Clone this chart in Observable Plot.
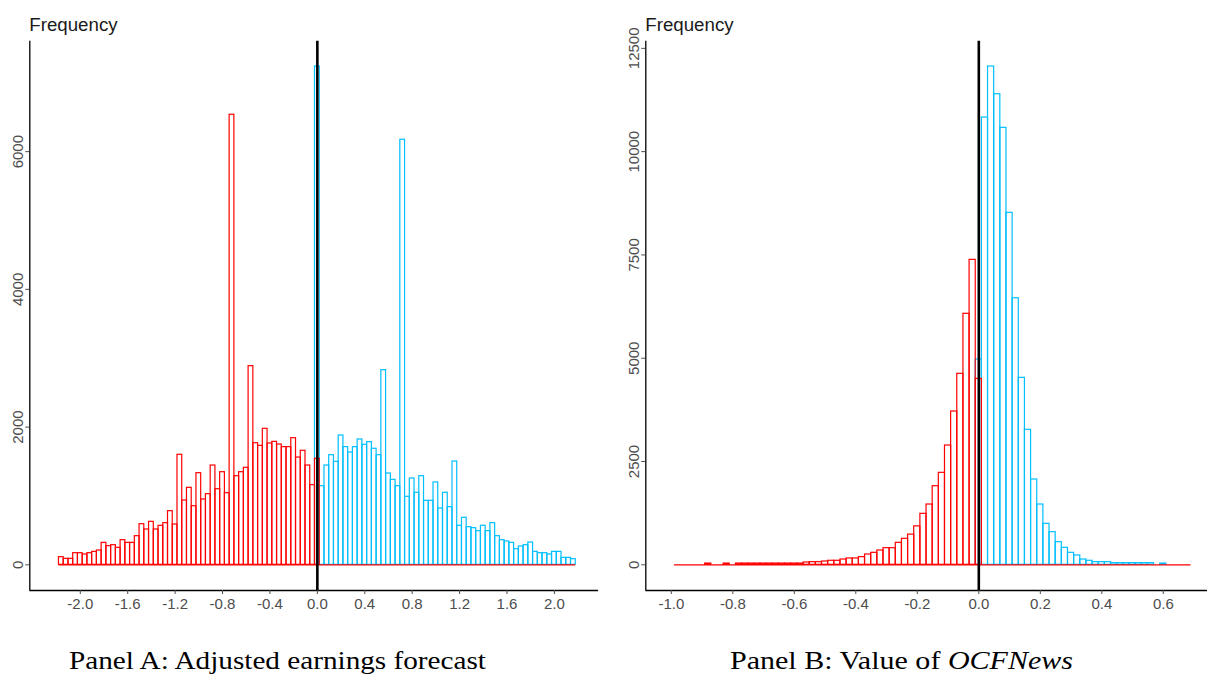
<!DOCTYPE html>
<html><head><meta charset="utf-8">
<script src="https://cdn.jsdelivr.net/npm/d3@7"></script>
<script src="https://cdn.jsdelivr.net/npm/@observablehq/plot@0.6"></script>
<style>
html,body{margin:0;padding:0;background:#fff;}
#wrap{position:relative;width:1207px;height:676px;overflow:hidden;background:#fff;}
#wrap > svg{position:absolute;top:0;}
</style></head><body><div id="wrap"></div>
<script>
// ---------- Panel A: Adjusted earnings forecast ----------
const aBinStart = -2.18;
const aBinWidth = 0.04;
const aTotalBins = 109;
// red (negative) histogram, bins 0..54
const aRedCounts = [111, 87, 87, 169, 169, 150, 169, 188, 208, 319,
  271, 285, 247, 358, 319, 319, 416, 590, 513, 624,
  513, 566, 605, 779, 585, 1598, 934, 1118, 851, 1331,
  949, 1026, 1442, 1098, 1345, 1040, 6536, 1287, 1345, 1409,
  2885, 1766, 1728, 1975, 1762, 1786, 1747, 1709, 1709, 1839,
  1558, 1656, 1442, 1157, 1540];
// cyan (non-negative) histogram, bins 54..108
const aCyanFirstBin = 54;
const aCyanCounts = [7237, 1142, 1442, 1592, 1496, 1878, 1709, 1631, 1709, 1820,
  1743, 1781, 1685, 1592, 2827, 1326, 1234, 1142, 6173, 988,
  1254, 1046, 1287, 929, 929, 1196, 818, 1046, 837, 1500,
  567, 683, 547, 532, 489, 567, 489, 605, 416, 358,
  339, 319, 227, 266, 285, 324, 188, 169, 169, 150,
  188, 188, 101, 101, 82];
const aXTicks = [-2.0, -1.6, -1.2, -0.8, -0.4, 0.0, 0.4, 0.8, 1.2, 1.6, 2.0];
const aYTicks = [0, 2000, 4000, 6000];

// ---------- Panel B: Value of OCFNews ----------
const bBinStart = -0.99;
const bBinWidth = 0.02;
const bTotalBins = 84;
// red (negative) histogram, bins 0..49
const bRedCounts = [0, 0, 0, 0, 0, 30, 0, 0, 30, 0,
  30, 30, 30, 30, 30, 30, 30, 30, 30, 30,
  30, 56, 64, 64, 80, 97, 97, 128, 153, 153,
  185, 249, 290, 346, 402, 402, 532, 629, 730, 930,
  1234, 1459, 1903, 2226, 2887, 3710, 4622, 6075, 7381, 4500];
// cyan (non-negative) histogram, bins 49..83
const bCyanFirstBin = 49;
const bCyanCounts = [4968, 10826, 12060, 11389, 10576, 8519, 6452, 4525, 3267, 2064,
  1459, 992, 790, 548, 411, 290, 225, 128, 97, 65,
  65, 65, 40, 40, 40, 40, 40, 40, 40, 0,
  30, 0, 0, 0, 0];
const bXTicks = [-1.0, -0.8, -0.6, -0.4, -0.2, 0.0, 0.2, 0.4, 0.6];
const bYTicks = [0, 2500, 5000, 7500, 10000, 12500];

const RED = "#FF0000";
const CYAN = "#00BFFF";

function toBins(start, width, first, counts) {
  return counts.map((c, i) => ({
    x1: start + (first + i) * width,
    x2: start + (first + i + 1) * width,
    count: c
  })).filter(d => d.count > 0);
}

const wrap = document.getElementById("wrap");

function panel(o) {
  const svg = Plot.plot({
    width: o.width, height: 620,
    marginLeft: o.marginLeft, marginRight: o.marginRight,
    marginTop: 40.7, marginBottom: 30,
    x: {domain: o.xDomain},
    y: {domain: o.yDomain},
    style: {fontFamily: "Liberation Sans, Arial, sans-serif", fontSize: "15px", background: "none"},
    marks: [
      Plot.rectY(o.cyan, {x1: "x1", x2: "x2", y1: 0, y2: "count", fill: "none", stroke: CYAN, strokeWidth: 1.2}),
      Plot.rectY(o.red, {x1: "x1", x2: "x2", y1: 0, y2: "count", fill: "none", stroke: RED, strokeWidth: 1.2}),
      Plot.ruleY([0], {x1: o.baseX1, x2: o.baseX2, stroke: RED, strokeWidth: 1.3}),
      Plot.ruleX([0], {stroke: "black", strokeWidth: 2.6}),
      Plot.ruleX([o.xDomain[0]], {stroke: "black", strokeWidth: 1.3}),
      Plot.ruleY([o.yDomain[0]], {stroke: "black", strokeWidth: 1.3}),
      Plot.axisX({ticks: o.xTicks, tickFormat: d => d.toFixed(1), tickSize: 4, tickPadding: 4,
        label: null, color: "#4d4d4d", fontSize: 15}),
      Plot.axisY({ticks: o.yTicks, tickFormat: d => String(d), tickSize: 4, tickRotate: -90, tickPadding: 3,
        label: null, color: "#4d4d4d", fontSize: 15})
    ]
  });
  svg.style.left = o.left + "px";
  d3.select(svg).append("text")
    .attr("x", o.marginLeft).attr("y", 30.5)
    .attr("text-anchor", "start")
    .attr("font-size", 18.7)
    .attr("fill", "#1a1a1a")
    .text("Frequency");
  wrap.appendChild(svg);
}

panel({
  red: toBins(aBinStart, aBinWidth, 0, aRedCounts),
  cyan: toBins(aBinStart, aBinWidth, aCyanFirstBin, aCyanCounts),
  baseX1: aBinStart, baseX2: aBinStart + aTotalBins * aBinWidth,
  xDomain: [-2.426, 2.372], yDomain: [-373, 7604],
  xTicks: aXTicks, yTicks: aYTicks,
  left: 0, width: 603, marginLeft: 29.3, marginRight: 5
});

panel({
  red: toBins(bBinStart, bBinWidth, 0, bRedCounts),
  cyan: toBins(bBinStart, bBinWidth, bCyanFirstBin, bCyanCounts),
  baseX1: bBinStart, baseX2: bBinStart + bTotalBins * bBinWidth,
  xDomain: [-1.083, 0.774], yDomain: [-622, 12673],
  xTicks: bXTicks, yTicks: bYTicks,
  left: 603, width: 614, marginLeft: 42.3, marginRight: 0.7
});

// captions
const cap = d3.select(wrap).append("svg")
  .attr("width", 1207).attr("height", 676)
  .style("left", "0px").style("pointer-events", "none");
cap.append("text")
  .attr("x", 69).attr("y", 669)
  .attr("font-family", "Liberation Serif, Times New Roman, serif")
  .attr("font-size", 25).attr("fill", "#000")
  .attr("textLength", 417).attr("lengthAdjust", "spacingAndGlyphs")
  .text("Panel A: Adjusted earnings forecast");
const tb = cap.append("text")
  .attr("x", 730).attr("y", 669)
  .attr("font-family", "Liberation Serif, Times New Roman, serif")
  .attr("font-size", 25).attr("fill", "#000")
  .attr("textLength", 343).attr("lengthAdjust", "spacingAndGlyphs");
tb.append("tspan").text("Panel B: Value of ");
tb.append("tspan").attr("font-style", "italic").text("OCFNews");
</script>
</body></html>
